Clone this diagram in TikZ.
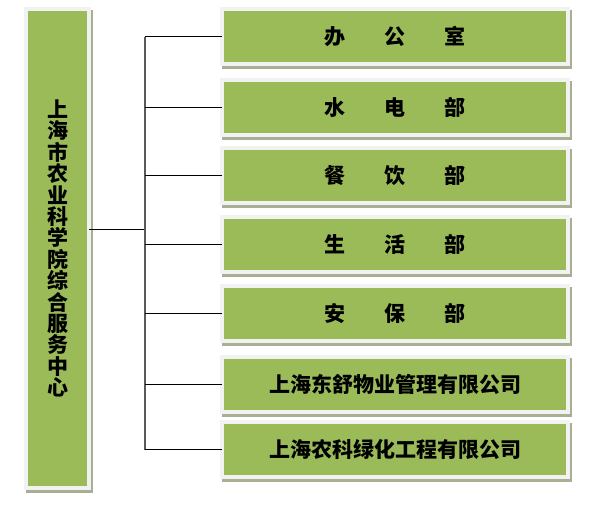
\documentclass[tikz,border=0pt]{standalone}
\usepackage{fontspec}
\usepackage{xcolor}
\newfontfamily\cjk{Noto Sans CJK SC}
\usetikzlibrary {positioning,
                 shadows}
\definecolor{boxgreen}{HTML}{9BBB59}
\definecolor{boxrim}{HTML}{F2F2F2}
\definecolor{boxshade}{HTML}{A8B094}
\newcommand{\wordgap}{\hspace{1.85em}}
\tikzset{
         unit/.style={rectangle, fill=boxgreen, draw=boxrim, line width=4pt,
                      inner sep=0pt, outer sep=0pt, minimum width=346pt, minimum height=55pt,
                      font=\cjk\bfseries\fontsize{21}{21}\selectfont,
                      general shadow={draw=boxshade, fill=boxshade, line width=4pt,
                                      shadow xshift=1.5pt, shadow yshift=-3pt}},
         mainunit/.style={unit, minimum width=63pt, minimum height=479pt, align=center,
                          font=\cjk\bfseries\fontsize{21}{21.4}\selectfont},
         branch/.style={line width=0.8pt},
         trunk/.style={line width=1.4pt, black!65},
}

\begin{document}
\begin{tikzpicture}[x=1pt, y=-1pt]
    \useasboundingbox (0,0) rectangle (616,507);

    % Zentrum
    \node[mainunit] (main) at (57.5,248.5) {上\\海\\市\\农\\业\\科\\学\\院\\综\\合\\服\\务\\中\\心};

    % Abteilungen
    \node[unit] (a) at (395,36.5) {办\wordgap 公\wordgap 室};
    \node[unit, below=16pt of a] (b) {水\wordgap 电\wordgap 部};
    \node[unit, below=13pt of b] (c) {餐\wordgap 饮\wordgap 部};
    \node[unit, below=14pt of c] (d) {生\wordgap 活\wordgap 部};
    \node[unit, below=14pt of d] (e) {安\wordgap 保\wordgap 部};
    \node[unit, below=16pt of e] (f) {上海东舒物业管理有限公司};
    \node[unit, below=10pt of f] (g) {上海农科绿化工程有限公司};

    % Verbindungen
    \coordinate (hub) at (145,229);
    \draw[branch] (main.east |- hub) -- (hub);
    \draw[trunk] (hub |- a) -- (hub |- g);
    \draw[branch] (hub |- a) -- (a);
    \draw[branch] (hub |- b) -- (b);
    \draw[branch] (hub |- c) -- (c);
    \draw[branch] (hub |- d) -- (d);
    \draw[branch] (hub |- e) -- (e);
    \draw[branch] (hub |- f) -- (f);
    \draw[branch] (hub |- g) -- (g);

\end{tikzpicture}
\end{document}
